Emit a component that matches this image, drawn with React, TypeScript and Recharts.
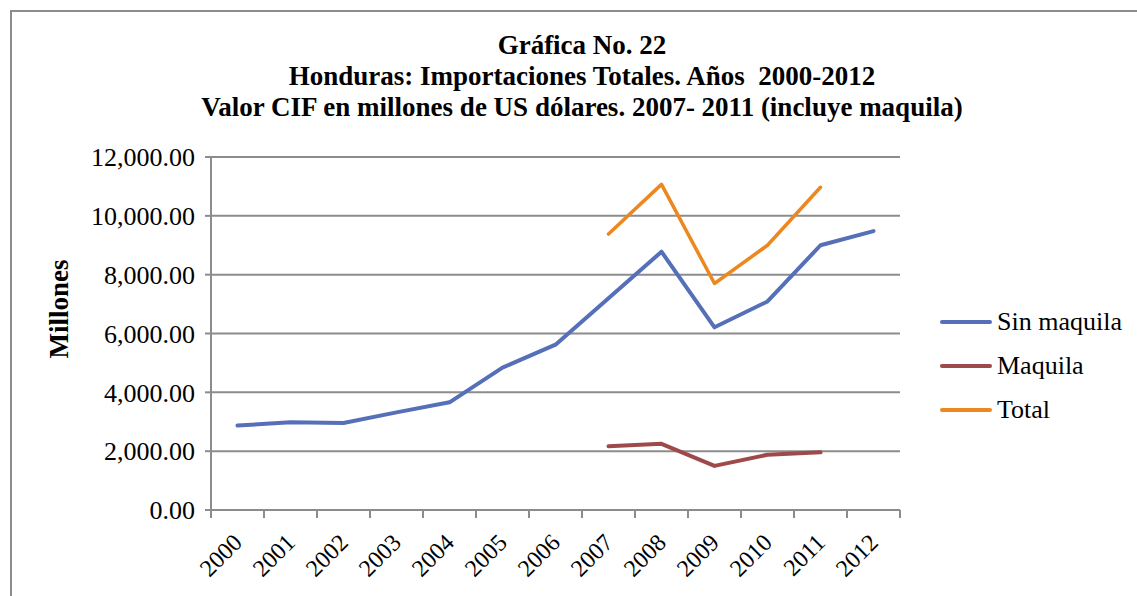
import React from 'react'
import { LineChart, Line, XAxis, YAxis, CartesianGrid } from 'recharts'

const years = ['2000', '2001', '2002', '2003', '2004', '2005', '2006', '2007', '2008', '2009', '2010', '2011', '2012']
const sinMaquila = [2870, 2980, 2960, 3320, 3660, 4840, 5620, 7200, 8780, 6210, 7090, 9000, 9480]
const maquila = [null, null, null, null, null, null, null, 2170, 2250, 1500, 1880, 1960, null]
const total = [null, null, null, null, null, null, null, 9380, 11070, 7700, 9000, 10970, null]
const yTicks = [0, 2000, 4000, 6000, 8000, 10000, 12000]
const titleLines = ['Gráfica No. 22', 'Honduras: Importaciones Totales. Años  2000-2012', 'Valor CIF en millones de US dólares. 2007- 2011 (incluye maquila)']

const series = [
  { key: 'sin', name: 'Sin maquila', color: '#5570B8', width: 4 },
  { key: 'maq', name: 'Maquila', color: '#9E4A4A', width: 4 },
  { key: 'tot', name: 'Total', color: '#EC8820', width: 3.5 }
]

const data = years.map((y, i) => ({ year: y, sin: sinMaquila[i], maq: maquila[i], tot: total[i] }))

const FONT = '"Liberation Serif", "Times New Roman", serif'
const GRID = '#8c8c8c'
const W = 1137
const H = 596
const PLOT_LEFT = 211
const PLOT_RIGHT = 900
const PLOT_TOP = 157
const PLOT_BOTTOM = 510
const HALF_BAND = (PLOT_RIGHT - PLOT_LEFT) / years.length / 2

const fmt = (v: number) => v.toLocaleString('en-US', { minimumFractionDigits: 2, maximumFractionDigits: 2 })

const XTick = (props: any) => {
  const { x, payload, index } = props
  const lx = x + 6
  const ly = PLOT_BOTTOM + 34
  return (
    <g>
      {index === 0 && <line x1={x - HALF_BAND} x2={x - HALF_BAND} y1={PLOT_BOTTOM} y2={PLOT_BOTTOM + 8} stroke={GRID} strokeWidth={2} />}
      <line x1={x + HALF_BAND} x2={x + HALF_BAND} y1={PLOT_BOTTOM} y2={PLOT_BOTTOM + 8} stroke={GRID} strokeWidth={2} />
      <text
        x={lx}
        y={ly}
        transform={`rotate(-45 ${lx} ${ly})`}
        textAnchor="end"
        fontFamily={FONT}
        fontSize={24}
        fill="#000"
      >
        {payload.value}
      </text>
    </g>
  )
}

export default function App() {
  return (
    <div style={{ position: 'fixed', left: 0, top: 0, width: W, height: H, overflow: 'hidden', background: '#fff' }}>
      <div style={{ position: 'absolute', left: 10, top: 10, width: W, height: H, borderTop: `2px solid ${GRID}`, borderLeft: `2px solid ${GRID}` }} />
      <div
        style={{
          position: 'absolute',
          left: 0,
          top: 30,
          width: 1164,
          textAlign: 'center',
          fontFamily: FONT,
          fontWeight: 'bold',
          fontSize: 27,
          lineHeight: '31px',
          whiteSpace: 'pre'
        }}
      >
        {titleLines.map(t => (
          <div key={t}>{t}</div>
        ))}
      </div>
      <div style={{ position: 'absolute', left: 0, top: 0 }}>
        <LineChart
          width={W}
          height={H}
          data={data}
          margin={{ top: PLOT_TOP, right: W - PLOT_RIGHT, bottom: 0, left: 0 }}
        >
          <CartesianGrid vertical={false} stroke={GRID} strokeWidth={2} />
          <XAxis
            dataKey="year"
            height={H - PLOT_BOTTOM}
            padding={{ left: HALF_BAND, right: HALF_BAND }}
            axisLine={{ stroke: GRID, strokeWidth: 2 }}
            tickLine={false}
            tick={<XTick />}
            interval={0}
          />
          <YAxis
            width={PLOT_LEFT}
            domain={[0, 12000]}
            ticks={yTicks}
            tickFormatter={fmt}
            axisLine={{ stroke: GRID, strokeWidth: 2 }}
            tickLine={{ stroke: GRID, strokeWidth: 2 }}
            tickSize={6}
            tickMargin={10}
            tick={{ fontFamily: FONT, fontSize: 26, fill: '#000' }}
            label={{
              content: () => (
                <text
                  x={68}
                  y={309}
                  transform="rotate(-90 68 309)"
                  textAnchor="middle"
                  fontFamily={FONT}
                  fontWeight="bold"
                  fontSize={27}
                  fill="#000"
                >
                  Millones
                </text>
              )
            }}
          />
          {series.map(s => (
            <Line
              key={s.key}
              dataKey={s.key}
              name={s.name}
              stroke={s.color}
              strokeWidth={s.width}
              strokeLinecap="round"
              strokeLinejoin="round"
              dot={false}
              activeDot={false}
              isAnimationActive={false}
            />
          ))}
        </LineChart>
      </div>
      <div style={{ position: 'absolute', left: 940, top: 300, fontFamily: FONT, fontSize: 26, color: '#000' }}>
        {series.map(s => (
          <div key={s.key} style={{ display: 'flex', alignItems: 'center', height: 44 }}>
            <div style={{ width: 52, height: 4, borderRadius: 2, background: s.color, marginRight: 5 }} />
            <span>{s.name}</span>
          </div>
        ))}
      </div>
    </div>
  )
}
